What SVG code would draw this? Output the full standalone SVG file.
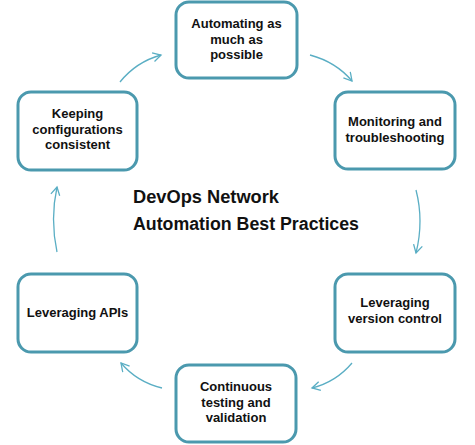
<svg xmlns="http://www.w3.org/2000/svg" width="475" height="445" viewBox="0 0 475 445">
<style>
.box{fill:#ffffff;stroke:#4b99ae;stroke-width:3}
.t{font-family:"Liberation Sans",Arial,sans-serif;font-weight:bold;font-size:13px;fill:#111;text-anchor:middle}
.title{font-family:"Liberation Sans",Arial,sans-serif;font-weight:bold;font-size:17.5px;fill:#111}
.arr{fill:none;stroke:#5aaec4;stroke-width:1.3;marker-end:url(#ah)}
</style>
<defs>
<marker id="ah" markerWidth="12" markerHeight="12" refX="9" refY="5" orient="auto" markerUnits="userSpaceOnUse">
<path d="M1,0.5 L9,5 L1,9.5" fill="none" stroke="#5aaec4" stroke-width="1.3"/>
</marker>
</defs>
<rect width="475" height="445" fill="#ffffff"/>
<g id="connectors">
<path class="arr" d="M120,82 Q136,62 161,55"/>
<path class="arr" d="M310,55 Q336,62 352,81"/>
<path class="arr" d="M416,190 Q424,221 416,253"/>
<path class="arr" d="M352,363 Q336,382 312,388"/>
<path class="arr" d="M162,388 Q137,382 121,363"/>
<path class="arr" d="M57,252 Q50,219 57,187"/>
</g>
<g id="n1"><rect class="box" x="176" y="2" width="121" height="76" rx="13"/>
<text class="t" x="236.5" y="28">Automating as</text>
<text class="t" x="236.5" y="43.5">much as</text>
<text class="t" x="236.5" y="59">possible</text></g>
<g id="n2"><rect class="box" x="335" y="92" width="120" height="77" rx="13"/>
<text class="t" x="395" y="126">Monitoring and</text>
<text class="t" x="395" y="142">troubleshooting</text></g>
<g id="n3"><rect class="box" x="335" y="274" width="120" height="78" rx="13"/>
<text class="t" x="395" y="307">Leveraging</text>
<text class="t" x="395" y="323">version control</text></g>
<g id="n4"><rect class="box" x="176" y="365" width="120" height="77" rx="13"/>
<text class="t" x="236" y="391">Continuous</text>
<text class="t" x="236" y="406.5">testing and</text>
<text class="t" x="236" y="422">validation</text></g>
<g id="n5"><rect class="box" x="18" y="274" width="119" height="78" rx="13"/>
<text class="t" x="77.5" y="317">Leveraging APIs</text></g>
<g id="n6"><rect class="box" x="18" y="92" width="119" height="78" rx="13"/>
<text class="t" x="77.5" y="118">Keeping</text>
<text class="t" x="77.5" y="133.5">configurations</text>
<text class="t" x="77.5" y="149">consistent</text></g>
<g id="title">
<text class="title" x="133" y="203" textLength="146" lengthAdjust="spacingAndGlyphs">DevOps Network</text>
<text class="title" x="133" y="230" textLength="226" lengthAdjust="spacingAndGlyphs">Automation Best Practices</text>
</g>
</svg>
